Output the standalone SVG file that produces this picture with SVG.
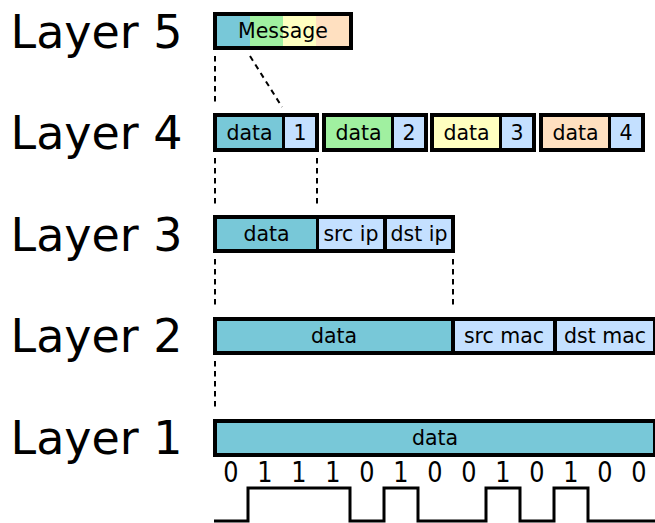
<svg xmlns="http://www.w3.org/2000/svg" width="655" height="523" viewBox="0 0 655 523">
<style>
.lbl{font-family:"DejaVu Sans","Liberation Sans",sans-serif;font-size:46px;fill:#000}
.t{font-family:"DejaVu Sans","Liberation Sans",sans-serif;font-size:20.5px;fill:#000;text-anchor:middle}
.b{font-family:"DejaVu Sans","Liberation Sans",sans-serif;font-size:24px;fill:#000;text-anchor:middle}
.frame{fill:#000}
.d{fill:#78c8d8}
.g{fill:#a0f0a0}
.y{fill:#ffffc0}
.p{fill:#ffe0c0}
.h{fill:#c4e0ff}
.dash{stroke:#000;stroke-width:2;stroke-dasharray:5.5 4.5;fill:none}
.wave{stroke:#000;stroke-width:3;fill:none}
</style>
<rect width="655" height="523" fill="#fff"/>
<g id="labels">
<text class="lbl" x="10.5" y="48">Layer 5</text>
<text class="lbl" x="10.5" y="149">Layer 4</text>
<text class="lbl" x="10.5" y="251">Layer 3</text>
<text class="lbl" x="10.5" y="352">Layer 2</text>
<text class="lbl" x="10.5" y="454">Layer 1</text>
</g>
<g id="connectors">
<line class="dash" x1="215" y1="56" x2="215" y2="102"/>
<line class="dash" x1="250" y1="56" x2="282" y2="107"/>
<line class="dash" x1="215" y1="158" x2="215" y2="204"/>
<line class="dash" x1="317" y1="158" x2="317" y2="204"/>
<line class="dash" x1="215" y1="259" x2="215" y2="305"/>
<line class="dash" x1="453" y1="259" x2="453" y2="305"/>
<line class="dash" x1="215" y1="361" x2="215" y2="407"/>
</g>
<g id="message">
<rect class="frame" x="213" y="12" width="140" height="38"/>
<rect class="d" x="217" y="16" width="33" height="30"/>
<rect class="g" x="250" y="16" width="33" height="30"/>
<rect class="y" x="283" y="16" width="33" height="30"/>
<rect class="p" x="316" y="16" width="33" height="30"/>
<text class="t" x="283" y="38">Message</text>
</g>
<g id="seg1">
<rect class="frame" x="213" y="113" width="106" height="39"/>
<rect class="d" x="217" y="117" width="65" height="31"/>
<rect class="h" x="285" y="117" width="30" height="31"/>
<text class="t" x="249.5" y="140">data</text>
<text class="t" x="300" y="140">1</text>
</g>
<g id="seg2">
<rect class="frame" x="322" y="113" width="106" height="39"/>
<rect class="g" x="326" y="117" width="65" height="31"/>
<rect class="h" x="394" y="117" width="30" height="31"/>
<text class="t" x="358.5" y="140">data</text>
<text class="t" x="409" y="140">2</text>
</g>
<g id="seg3">
<rect class="frame" x="430" y="113" width="106" height="39"/>
<rect class="y" x="434" y="117" width="65" height="31"/>
<rect class="h" x="502" y="117" width="30" height="31"/>
<text class="t" x="466.5" y="140">data</text>
<text class="t" x="517" y="140">3</text>
</g>
<g id="seg4">
<rect class="frame" x="539" y="113" width="106" height="39"/>
<rect class="p" x="543" y="117" width="65" height="31"/>
<rect class="h" x="611" y="117" width="30" height="31"/>
<text class="t" x="575.5" y="140">data</text>
<text class="t" x="626" y="140">4</text>
</g>
<g id="packet">
<rect class="frame" x="213" y="215" width="242" height="38"/>
<rect class="d" x="217" y="219" width="99" height="30"/>
<rect class="h" x="319" y="219" width="64" height="30"/>
<rect class="h" x="387" y="219" width="64" height="30"/>
<text class="t" x="266.5" y="241">data</text>
<text class="t" x="351" y="241">src ip</text>
<text class="t" x="419" y="241">dst ip</text>
</g>
<g id="frame2">
<rect class="frame" x="213" y="317" width="444" height="38"/>
<rect class="d" x="217" y="321" width="234" height="30"/>
<rect class="h" x="455" y="321" width="98" height="30"/>
<rect class="h" x="557" y="321" width="96" height="30"/>
<text class="t" x="334" y="343">data</text>
<text class="t" x="504" y="343">src mac</text>
<text class="t" x="605" y="343">dst mac</text>
</g>
<g id="bits">
<rect class="frame" x="213" y="419" width="444" height="38"/>
<rect class="d" x="217" y="423" width="436" height="30"/>
<text class="t" x="435" y="445">data</text>
<g transform="translate(0,482) scale(1,1.15)">
<text class="b" x="231" y="0">0</text>
<text class="b" x="265" y="0">1</text>
<text class="b" x="299" y="0">1</text>
<text class="b" x="333" y="0">1</text>
<text class="b" x="367" y="0">0</text>
<text class="b" x="401" y="0">1</text>
<text class="b" x="435" y="0">0</text>
<text class="b" x="469" y="0">0</text>
<text class="b" x="503" y="0">1</text>
<text class="b" x="537" y="0">0</text>
<text class="b" x="571" y="0">1</text>
<text class="b" x="605" y="0">0</text>
<text class="b" x="639" y="0">0</text>
</g>
<path class="wave" d="M214,521 H248 V488 H350 V521 H384 V488 H418 V521 H486 V488 H520 V521 H554 V488 H588 V521 H656"/>
</g>
</svg>
